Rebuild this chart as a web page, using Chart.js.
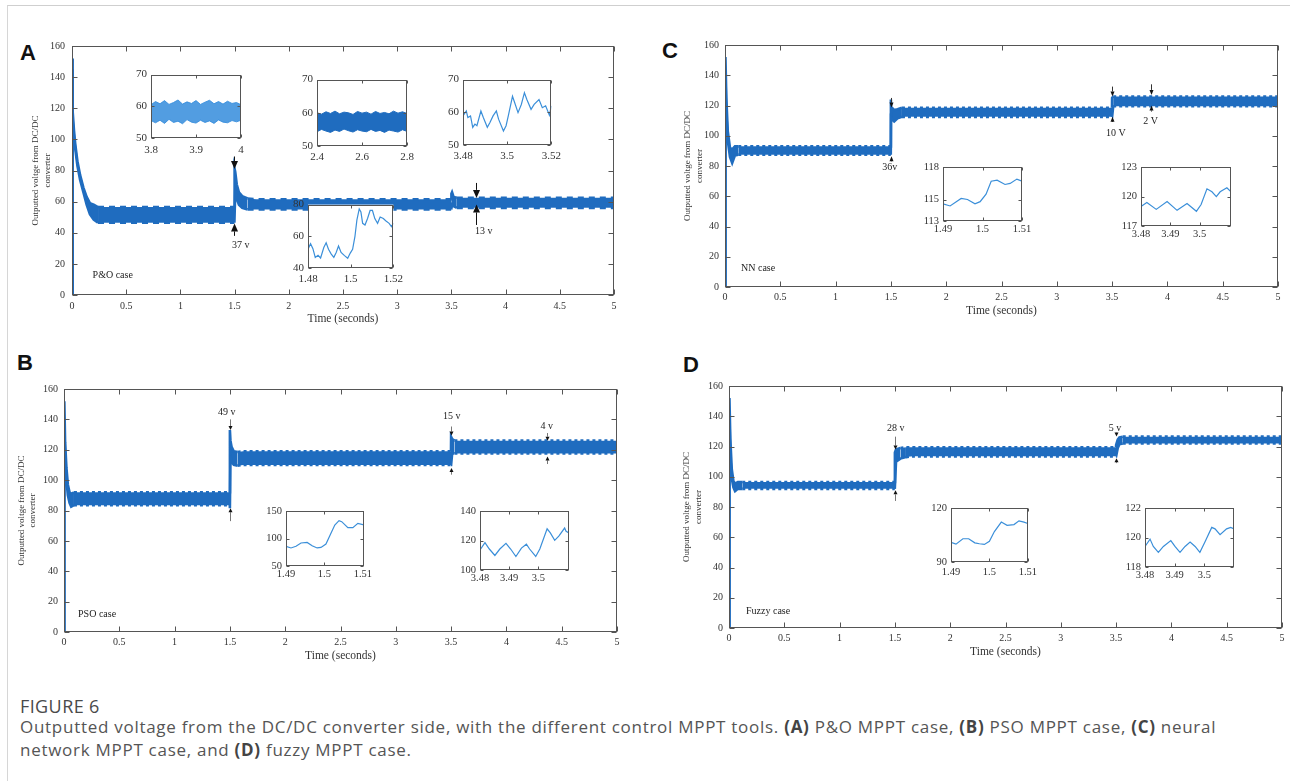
<!DOCTYPE html>
<html>
<head>
<meta charset="utf-8">
<title>Figure 6</title>
<script src="https://cdn.jsdelivr.net/npm/chart.js"></script>
<style>
  body { margin: 0; background: #fff; width: 1290px; height: 781px; overflow: hidden; position: relative; }
  .frame { position: absolute; left: 7px; top: 5px; width: 1300px; height: 800px;
           border-top: 1px solid #cfcfcf; border-left: 1px solid #d6d6d6; }
  canvas { position: absolute; }
  .letter { position: absolute; font: bold 22px 'Liberation Sans', Arial, sans-serif; line-height: 22px; color: #111; }
  .cap { position: absolute; left: 20px; font-family: 'Open Sans', sans-serif; color: #555; white-space: nowrap; }
  .cap b { color: #444; }
</style>
</head>
<body>
<div class="frame"></div>
<div class="letter" style="left:20px;top:42px">A</div>
<div class="letter" style="left:17px;top:352px">B</div>
<div class="letter" style="left:662px;top:40px">C</div>
<div class="letter" style="left:683px;top:354px">D</div>
<div class="cap" style="top:694px;font-size:18px;line-height:24px;letter-spacing:0.4px;color:#4a4a4a">FIGURE 6</div>
<div class="cap" style="top:715px;font-size:17px;line-height:23px;letter-spacing:0.72px">
Outputted voltage from the DC/DC converter side, with the different control MPPT tools. <b>(A)</b> P&amp;O MPPT case, <b>(B)</b> PSO MPPT case, <b>(C)</b> neural<br>
network MPPT case, and <b>(D)</b> fuzzy MPPT case.
</div>

<script>
// ---- main panels: time points with upper / lower envelope of the ripple band (V)
const tA = [0, 0.003, 0.009, 0.018, 0.03, 0.05, 0.075, 0.105, 0.135, 0.165, 0.2, 0.24, 1.498, 1.5, 1.506, 1.52, 1.54, 1.57, 1.62, 1.7, 3.498, 3.5, 3.506, 3.52, 3.55, 3.6, 5];
const upA = [0, 152, 118, 106, 97, 86, 77, 69, 63, 59, 58, 56.5, 56.5, 81, 79, 71, 66, 63.5, 62, 61.5, 61.5, 65, 66, 63, 62.5, 62.5, 62.5];
const loA = [0, 145, 112, 102, 94, 83, 74, 66, 58, 52, 48.5, 46.5, 46.5, 46.5, 66, 62, 58, 56, 55, 55, 55, 55, 58, 57, 56, 56, 56];

const tB = [0, 0.003, 0.01, 0.022, 0.035, 0.05, 0.065, 0.09, 1.499, 1.5, 1.505, 1.515, 1.535, 1.57, 1.62, 3.499, 3.5, 3.51, 3.53, 5];
const upB = [0, 152, 125, 108, 97, 92, 91, 92, 92, 133, 126, 122, 119, 118.5, 119, 119, 128.5, 127, 126, 126];
const loB = [0, 140, 112, 100, 90, 85, 82.5, 83.5, 83.5, 81.5, 116, 112, 110, 109.5, 110, 110, 110, 118, 117.5, 117.5];

const tC = [0, 0.004, 0.012, 0.025, 0.045, 0.065, 0.09, 0.12, 1.499, 1.5, 1.501, 1.51, 1.53, 1.56, 1.6, 3.499, 3.5, 3.51, 5];
const upC = [0, 152, 125, 103, 92, 91, 93, 93, 93, 124, 118.5, 118.5, 117, 117.5, 118.5, 118.5, 125, 126, 126];
const loC = [0, 140, 115, 97, 86, 82, 87, 87.5, 87.5, 87.5, 112, 111, 109.5, 111.5, 112.5, 112.5, 112.5, 119.5, 119.5];

const tD = [0, 0.004, 0.012, 0.025, 0.04, 0.055, 0.08, 0.12, 1.499, 1.5, 1.51, 1.55, 1.6, 1.66, 3.499, 3.5, 3.515, 3.53, 3.56, 5];
const upD = [0, 152, 125, 105, 97, 95.5, 96.5, 96.5, 96.5, 116, 118, 119, 119.5, 119.5, 119.5, 121, 124.5, 126, 126.5, 126.5];
const loD = [0, 140, 113, 99, 93, 90.5, 92, 92, 92, 92, 110, 112, 113, 113.5, 113.5, 113.5, 119, 121.5, 122, 122];

const xTicksMain = [0, 0.5, 1, 1.5, 2, 2.5, 3, 3.5, 4, 4.5, 5];
const xLabelsMain = ['0', '0.5', '1', '1.5', '2', '2.5', '3', '3.5', '4', '4.5', '5'];
const yTicksMain = [0, 20, 40, 60, 80, 100, 120, 140, 160];
const yLabelsMain = ['0', '20', '40', '60', '80', '100', '120', '140', '160'];

// ---- zoomed insets
const tA1 = [3.8, 3.81, 3.82, 3.83, 3.84, 3.85, 3.86, 3.87, 3.88, 3.89, 3.9, 3.91, 3.92, 3.93, 3.94, 3.95, 3.96, 3.97, 3.98, 3.99, 4];
const upA1 = [60.5, 61.5, 60.8, 61.8, 60.6, 61.2, 62, 60.7, 61.4, 60.9, 61.8, 60.6, 61.3, 61.9, 60.8, 61.5, 60.7, 61.6, 60.9, 61.2, 60.5];
const loA1 = [55.5, 54.8, 55.6, 54.6, 55.9, 54.9, 55.3, 54.5, 55.8, 55, 54.7, 55.6, 54.9, 55.4, 54.6, 55.7, 55, 54.8, 55.5, 55.1, 55.6];

const tA2 = [2.4, 2.42, 2.44, 2.46, 2.48, 2.5, 2.52, 2.54, 2.56, 2.58, 2.6, 2.62, 2.64, 2.66, 2.68, 2.7, 2.72, 2.74, 2.76, 2.78, 2.8];
const upA2 = [60, 59.6, 60.3, 59.8, 60.5, 59.7, 60.2, 60, 59.5, 60.4, 59.9, 60.2, 59.6, 60.4, 59.8, 60.1, 59.7, 60.5, 59.9, 60.3, 59.8];
const loA2 = [54.3, 55, 54.5, 54.1, 54.8, 54.4, 55.1, 54.6, 54.2, 54.9, 54.5, 54.3, 55, 54.4, 54.7, 54.1, 54.8, 54.5, 54.2, 54.9, 54.4];

const tA3 = [3.48, 3.4815, 3.4822, 3.4834, 3.4844, 3.4854, 3.4863, 3.4881, 3.4892, 3.491, 3.4922, 3.4936, 3.4951, 3.4961, 3.4983, 3.4995, 3.5005, 3.5024, 3.5034, 3.5049, 3.5064, 3.5078, 3.5089, 3.5108, 3.5122, 3.5144, 3.5159, 3.5174, 3.5191, 3.52];
const vA3 = [58.9, 60.4, 58.4, 58.9, 55.4, 56.4, 55.9, 60.4, 58.4, 55.4, 56.9, 58.9, 60.4, 57.9, 54.3, 55.9, 58.9, 64.9, 62.9, 59.9, 62.4, 66, 63.9, 60.9, 62.4, 63.9, 61.4, 62, 59.1, 62];

const tA4 = [1.48, 1.4812, 1.4823, 1.4834, 1.4847, 1.4859, 1.4874, 1.4885, 1.4896, 1.4909, 1.4921, 1.4932, 1.4943, 1.4955, 1.4971, 1.4986, 1.4998, 1.5009, 1.502, 1.5029, 1.504, 1.5048, 1.5056, 1.5067, 1.5079, 1.5091, 1.5102, 1.5113, 1.5126, 1.5138, 1.5153, 1.5164, 1.518, 1.5191, 1.52];
const vA4 = [51.8, 55.3, 52.2, 46.7, 48, 46.3, 52.9, 55.9, 51.8, 48.8, 46.7, 49.8, 53.9, 49.8, 47.8, 46.1, 49.4, 51.8, 60, 70.2, 77.3, 75.3, 68.2, 67.1, 71.2, 76.3, 76.3, 71.2, 68.2, 72.2, 71.2, 69.8, 68.2, 66.1, 68.2];

const tB1 = [1.49, 1.4913, 1.4926, 1.4939, 1.4955, 1.4968, 1.4981, 1.4991, 1.5004, 1.5017, 1.5027, 1.5038, 1.5045, 1.5061, 1.5074, 1.5087, 1.5103];
const vB1 = [86, 83, 86, 92, 93, 87, 83, 84, 90, 110, 125, 133, 131, 120, 120, 128, 125];

const tB2 = [3.48, 3.4817, 3.4832, 3.4851, 3.4868, 3.4889, 3.4905, 3.4923, 3.4942, 3.4959, 3.497, 3.4991, 3.5005, 3.503, 3.5041, 3.5056, 3.507, 3.509, 3.5095, 3.5105];
const vB2 = [113.6, 118.7, 114.3, 109.9, 114.3, 118.2, 114.3, 109.2, 114.9, 117.6, 114.3, 109.2, 114.3, 128.1, 125.3, 120.2, 123.1, 128.6, 126.4, 125.3];

const tC1 = [1.49, 1.4918, 1.4946, 1.4962, 1.4981, 1.4994, 1.5009, 1.5022, 1.5037, 1.5057, 1.507, 1.5087, 1.51];
const vC1 = [114.6, 114.4, 115.1, 115.0, 114.6, 114.8, 115.5, 116.7, 116.8, 116.4, 116.5, 116.9, 116.7];

const tC2 = [3.48, 3.482, 3.4852, 3.4889, 3.4923, 3.4957, 3.4989, 3.5005, 3.5025, 3.5042, 3.5057, 3.507, 3.5093, 3.5107];
const vC2 = [119.0, 119.4, 118.7, 119.5, 118.6, 119.3, 118.5, 119.2, 120.8, 120.5, 120.0, 120.5, 120.9, 120.5];

const tD1 = [1.49, 1.4913, 1.4931, 1.4946, 1.4962, 1.4974, 1.4987, 1.5, 1.5013, 1.5031, 1.5046, 1.5064, 1.5077, 1.509, 1.51];
const vD1 = [101, 100, 103, 103, 100.7, 100.2, 99.8, 101.6, 107, 112.3, 110.5, 110.9, 113, 112.3, 111.5];

const tD2 = [3.48, 3.4817, 3.4828, 3.4845, 3.4862, 3.4887, 3.4901, 3.4918, 3.4935, 3.4952, 3.4969, 3.4985, 3.5002, 3.5025, 3.5036, 3.5053, 3.5075, 3.5089, 3.51];
const vD2 = [119.4, 119.9, 119.4, 119.0, 119.4, 119.8, 119.4, 119.0, 119.4, 119.7, 119.4, 119.0, 119.7, 120.7, 120.6, 120.2, 120.6, 120.7, 120.6];

const SERIF = "'Liberation Serif', 'Times New Roman', serif";
const BAND = '#1f6cbf';
const BAND_LIGHT = 'rgba(52, 140, 220, 0.85)';
const LINE = '#3b8fd9';
const Y_TITLE = ['Outputted voltge from DC/DC', 'converter'];

const pts = (xs, ys) => xs.map((x, i) => ({ x: x, y: ys[i] }));

function place(rect, m) {
    const cv = document.createElement('canvas');
    const w = rect.r - rect.l + m.l + m.r;
    const h = rect.b - rect.t + m.t + m.b;
    cv.width = w;
    cv.height = h;
    cv.style.left = (rect.l - m.l) + 'px';
    cv.style.top = (rect.t - m.t) + 'px';
    cv.style.width = w + 'px';
    cv.style.height = h + 'px';
    document.body.appendChild(cv);
    return cv;
}

function axis(m, a, isX) {
    return {
        type: 'linear',
        min: a.min,
        max: a.max,
        border: { display: false },
        grid: { display: false, drawTicks: false },
        afterBuildTicks: s => { s.ticks = a.ticks.map(v => ({ value: v })); },
        afterFit: s => { if (isX) s.height = m.b; else s.width = m.l; },
        ticks: {
            autoSkip: false,
            maxRotation: 0,
            padding: a.pad,
            color: '#333',
            font: { family: SERIF, size: a.size },
            callback: (v, i) => a.labels[i]
        }
    };
}

// box, inward ticks, axis titles and arrow notes
function decor(cfg) {
    return {
        id: 'decor',
        beforeDraw(chart) {
            if (!cfg.white) return;
            const a = chart.chartArea, c = chart.ctx;
            c.save();
            c.fillStyle = '#fff';
            c.fillRect(a.left, a.top, a.right - a.left, a.bottom - a.top);
            c.restore();
        },
        afterDraw(chart) {
            const a = chart.chartArea, c = chart.ctx;
            const sx = chart.scales.x, sy = chart.scales.y;
            const L = Math.round(a.left) + 0.5, R = Math.round(a.right) - 0.5;
            const T = Math.round(a.top) + 0.5, B = Math.round(a.bottom) - 0.5;
            c.save();
            c.strokeStyle = '#555';
            c.lineWidth = 1;
            c.strokeRect(L, T, R - L, B - T);
            c.beginPath();
            cfg.xt.forEach(v => {
                const p = Math.round(sx.getPixelForValue(v)) + 0.5;
                c.moveTo(p, B); c.lineTo(p, B - cfg.tl);
                c.moveTo(p, T); c.lineTo(p, T + cfg.tl);
            });
            cfg.yt.forEach(v => {
                const p = Math.round(sy.getPixelForValue(v)) + 0.5;
                c.moveTo(L, p); c.lineTo(L + cfg.tl, p);
                c.moveTo(R, p); c.lineTo(R - cfg.tl, p);
            });
            c.stroke();

            c.fillStyle = '#333';
            if (cfg.yTitle) {
                c.font = '9px ' + SERIF;
                c.textAlign = 'center';
                c.textBaseline = 'middle';
                Y_TITLE.forEach((line, i) => {
                    c.save();
                    c.translate(a.left - cfg.yTitle[i], (a.top + a.bottom) / 2);
                    c.rotate(-Math.PI / 2);
                    c.fillText(line, 0, 0);
                    c.restore();
                });
                c.font = '11.5px ' + SERIF;
                c.fillText('Time (seconds)', (a.left + a.right) / 2, a.bottom + cfg.xTitle);
            }

            (cfg.arrows || []).forEach(ar => {
                const x = Math.round(sx.getPixelForValue(ar.x)) + 0.5;
                const y1 = sy.getPixelForValue(ar.from), y2 = sy.getPixelForValue(ar.to);
                const dir = y2 > y1 ? 1 : -1;
                c.strokeStyle = cfg.arrowLine;
                c.beginPath();
                c.moveTo(x, y1);
                c.lineTo(x, y2 - dir * cfg.head[1]);
                c.stroke();
                c.fillStyle = '#111';
                c.beginPath();
                c.moveTo(x, y2);
                c.lineTo(x - cfg.head[0] / 2, y2 - dir * cfg.head[1]);
                c.lineTo(x + cfg.head[0] / 2, y2 - dir * cfg.head[1]);
                c.closePath();
                c.fill();
            });

            c.fillStyle = '#222';
            c.font = '10px ' + SERIF;
            c.textBaseline = 'middle';
            (cfg.texts || []).forEach(tx => {
                c.textAlign = tx.align || 'center';
                c.fillText(tx.text, sx.getPixelForValue(tx.x), sy.getPixelForValue(tx.y));
            });
            c.restore();
        }
    };
}

function flatDash(dash) {
    return ctx => (Math.abs(ctx.p1.parsed.y - ctx.p0.parsed.y) < 1 &&
                   ctx.p1.parsed.x - ctx.p0.parsed.x > 0.05) ? dash : undefined;
}

function bandSets(t, up, lo, color, width, dash) {
    return [
        { data: pts(t, lo), borderColor: color, borderWidth: width, pointRadius: 0, fill: false,
          segment: { borderDash: flatDash(dash) } },
        { data: pts(t, up), borderColor: color, backgroundColor: color, borderWidth: width, pointRadius: 0,
          fill: '-1', segment: { borderDash: flatDash(dash) } }
    ];
}

function mainChart(rect, t, up, lo, p) {
    const m = { l: 62, t: 10, r: 8, b: 36 };
    const cv = place(rect, m);
    return new Chart(cv, {
        type: 'line',
        data: { datasets: bandSets(t, up, lo, BAND, 2.6, p.dash) },
        options: {
            responsive: false,
            animation: false,
            events: [],
            layout: { padding: { left: 0, top: m.t, right: m.r, bottom: 0 } },
            plugins: { legend: { display: false }, tooltip: { enabled: false } },
            scales: {
                x: axis(m, { min: 0, max: 5, ticks: xTicksMain, labels: xLabelsMain, pad: p.xpad, size: 10 }, true),
                y: axis(m, { min: 0, max: 160, ticks: yTicksMain, labels: yLabelsMain, pad: p.ypad, size: 10 }, false)
            }
        },
        plugins: [decor({
            xt: xTicksMain, yt: yTicksMain, tl: 5,
            yTitle: p.yTitle, xTitle: 24,
            arrows: p.arrows, arrowLine: p.arrowLine, head: p.head,
            texts: p.texts
        })]
    });
}

function insetChart(rect, datasets, p) {
    const m = { l: 30, t: 8, r: 12, b: 22 };
    const cv = place(rect, m);
    return new Chart(cv, {
        type: 'line',
        data: { datasets: datasets },
        options: {
            responsive: false,
            animation: false,
            events: [],
            layout: { padding: { left: 0, top: m.t, right: m.r, bottom: 0 } },
            plugins: { legend: { display: false }, tooltip: { enabled: false } },
            scales: {
                x: axis(m, { min: p.x[0], max: p.x[1], ticks: p.xt, labels: p.xl, pad: p.xpad, size: p.size }, true),
                y: axis(m, { min: p.y[0], max: p.y[1], ticks: p.yt, labels: p.yl, pad: 4, size: p.size }, false)
            }
        },
        plugins: [decor({ xt: p.xt, yt: p.yt, tl: 3, white: true })]
    });
}

const line = (t, v) => [{ data: pts(t, v), borderColor: LINE, borderWidth: 1.2, pointRadius: 0, fill: false }];

// ---- main panels
mainChart({ l: 72, t: 43, r: 614, b: 295 }, tA, upA, loA, {
    dash: [6, 5], xpad: 5, ypad: 7, yTitle: [36, 24], head: [7, 8], arrowLine: '#111',
    arrows: [{ x: 1.497, from: 89, to: 81 }, { x: 1.497, from: 38, to: 46 },
             { x: 3.727, from: 72, to: 62.4 }, { x: 3.727, from: 45, to: 58.2 }],
    texts: [{ x: 0.19, y: 12.7, text: 'P&O case', align: 'left' },
            { x: 1.476, y: 31.7, text: '37 v', align: 'left' },
            { x: 3.718, y: 40.6, text: '13 v', align: 'left' }]
});
mainChart({ l: 64, t: 387, r: 617, b: 632 }, tB, upB, loB, {
    dash: [3, 3], xpad: 4, ypad: 6, yTitle: [42, 31], head: [4, 4], arrowLine: '#777',
    arrows: [{ x: 1.5, from: 140, to: 133 }, { x: 1.5, from: 73, to: 81.5 },
             { x: 3.5, from: 135.3, to: 129.4 }, { x: 3.5, from: 103.6, to: 108 },
             { x: 4.365, from: 131, to: 126 }, { x: 4.365, from: 110.6, to: 115.6 }],
    texts: [{ x: 0.127, y: 11.6, text: 'PSO case', align: 'left' },
            { x: 1.471, y: 144.4, text: '49 v' },
            { x: 3.505, y: 141.8, text: '15 v' },
            { x: 4.365, y: 135.3, text: '4 v' }]
});
mainChart({ l: 725, t: 43, r: 1278, b: 287 }, tC, upC, loC, {
    dash: [3, 3], xpad: 4, ypad: 6, yTitle: [37, 25], head: [4, 5], arrowLine: '#333',
    arrows: [{ x: 1.5, from: 125, to: 118.7 }, { x: 1.5, from: 83, to: 86.5 },
             { x: 3.5, from: 132.5, to: 126 }, { x: 3.5, from: 110, to: 112.5 },
             { x: 3.849, from: 134, to: 127 }, { x: 3.849, from: 116, to: 120 }],
    texts: [{ x: 0.145, y: 12, text: 'NN case', align: 'left' },
            { x: 1.49, y: 79, text: '36v' },
            { x: 3.533, y: 101.9, text: '10 V' },
            { x: 3.849, y: 109.6, text: '2 V' }]
});
mainChart({ l: 729, t: 384, r: 1282, b: 628 }, tD, upD, loD, {
    dash: [3, 3], xpad: 4, ypad: 6, yTitle: [42, 30], head: [4, 4], arrowLine: '#777',
    arrows: [{ x: 1.5, from: 126.5, to: 118 }, { x: 1.5, from: 84, to: 91 },
             { x: 3.5, from: 129.5, to: 126.6 }, { x: 3.5, from: 109, to: 112.3 }],
    texts: [{ x: 0.154, y: 11.3, text: 'Fuzzy case', align: 'left' },
            { x: 1.507, y: 131.9, text: '28 v' },
            { x: 3.49, y: 131.9, text: '5 v' }]
});

// ---- insets
const yl = a => a.map(String);
insetChart({ l: 151, t: 72, r: 241, b: 138 }, bandSets(tA1, upA1, loA1, BAND_LIGHT, 1, []), {
    x: [3.8, 4], xt: [3.8, 3.9, 4], xl: ['3.8', '3.9', '4'], y: [50, 70], yt: [50, 60, 70], yl: yl([50, 60, 70]), xpad: 6, size: 11 });
insetChart({ l: 317, t: 77, r: 407, b: 146 }, bandSets(tA2, upA2, loA2, BAND, 1, []), {
    x: [2.4, 2.8], xt: [2.4, 2.6, 2.8], xl: ['2.4', '2.6', '2.8'], y: [50, 70], yt: [50, 60, 70], yl: yl([50, 60, 70]), xpad: 5, size: 11 });
insetChart({ l: 463, t: 77, r: 554, b: 145 }, line(tA3, vA3), {
    x: [3.48, 3.52], xt: [3.48, 3.5, 3.52], xl: ['3.48', '3.5', '3.52'], y: [50, 70], yt: [50, 60, 70], yl: yl([50, 60, 70]), xpad: 5, size: 11 });
insetChart({ l: 308, t: 202, r: 396, b: 268 }, line(tA4, vA4), {
    x: [1.48, 1.52], xt: [1.48, 1.5, 1.52], xl: ['1.48', '1.5', '1.52'], y: [40, 80], yt: [40, 60, 80], yl: yl([40, 60, 80]), xpad: 5, size: 11 });
insetChart({ l: 943, t: 165, r: 1022, b: 221 }, line(tC1, vC1), {
    x: [1.49, 1.51], xt: [1.49, 1.5, 1.51], xl: ['1.49', '1.5', '1.51'], y: [113, 118], yt: [113, 115, 118], yl: yl([113, 115, 118]), xpad: 2, size: 10.5 });
insetChart({ l: 1141, t: 165, r: 1231, b: 226 }, line(tC2, vC2), {
    x: [3.48, 3.5107], xt: [3.48, 3.49, 3.5], xl: ['3.48', '3.49', '3.5'], y: [117, 123], yt: [117, 120, 123], yl: yl([117, 120, 123]), xpad: 2, size: 10.5 });
insetChart({ l: 286, t: 509, r: 364, b: 566 }, line(tB1, vB1), {
    x: [1.49, 1.5103], xt: [1.49, 1.5, 1.51], xl: ['1.49', '1.5', '1.51'], y: [50, 150], yt: [50, 100, 150], yl: yl([50, 100, 150]), xpad: 2, size: 10.5 });
insetChart({ l: 480, t: 509, r: 569, b: 570 }, line(tB2, vB2), {
    x: [3.48, 3.5105], xt: [3.48, 3.49, 3.5], xl: ['3.48', '3.49', '3.5'], y: [100, 140], yt: [100, 120, 140], yl: yl([100, 120, 140]), xpad: 2, size: 10.5 });
insetChart({ l: 951, t: 506, r: 1029, b: 562 }, line(tD1, vD1), {
    x: [1.49, 1.51], xt: [1.49, 1.5, 1.51], xl: ['1.49', '1.5', '1.51'], y: [90, 120], yt: [90, 120], yl: yl([90, 120]), xpad: 4, size: 10.5 });
insetChart({ l: 1145, t: 506, r: 1234, b: 567 }, line(tD2, vD2), {
    x: [3.48, 3.51], xt: [3.48, 3.49, 3.5], xl: ['3.48', '3.49', '3.5'], y: [118, 122], yt: [118, 120, 122], yl: yl([118, 120, 122]), xpad: 2, size: 10.5 });
</script>
</body>
</html>
